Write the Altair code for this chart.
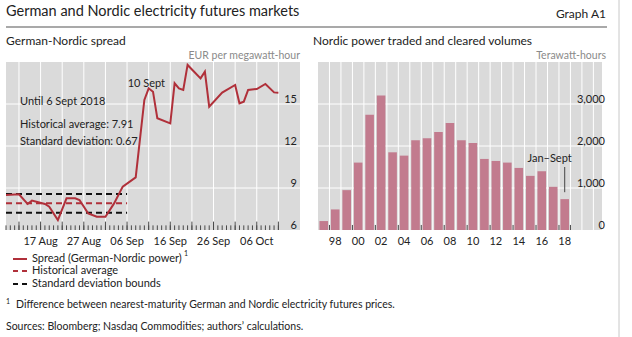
import altair as alt
import pandas as pd

# ---------------- data ----------------
spread_dates = ["2018-08-09", "2018-08-12", "2018-08-14", "2018-08-15", "2018-08-18", "2018-08-19",
                "2018-08-21", "2018-08-23", "2018-08-25", "2018-08-26", "2018-08-28", "2018-08-30",
                "2018-09-01", "2018-09-03", "2018-09-05", "2018-09-08", "2018-09-10", "2018-09-11",
                "2018-09-12", "2018-09-13", "2018-09-16", "2018-09-17", "2018-09-18", "2018-09-19",
                "2018-09-20", "2018-09-23", "2018-09-24", "2018-09-25", "2018-09-28", "2018-10-01",
                "2018-10-02", "2018-10-03", "2018-10-04", "2018-10-06", "2018-10-08", "2018-10-10",
                "2018-10-11"]
spread_values = [8.50, 8.55, 7.86, 8.10, 7.86, 7.67, 6.71, 8.26, 8.26, 8.14, 7.19, 6.95,
                 6.95, 7.90, 9.10, 9.76, 15.29, 16.12, 15.88, 13.98, 13.62, 16.48, 16.12, 16.00,
                 17.79, 16.83, 17.31, 14.81, 15.81, 16.36, 15.05, 15.17, 16.00, 16.07, 16.43, 15.83,
                 15.81]
hist_avg = 7.91
hist_sd = 0.67
hist_start = "2018-08-09"
hist_end = "2018-09-06"

years = list(range(1997, 2019))
volumes = [213, 490, 949, 1605, 2743, 3202, 1850, 1771, 2134, 2182, 2332, 2545,
           2134, 2071, 1692, 1644, 1605, 1478, 1289, 1399, 1028, 735]

left_xtick_dates = ["2018-08-17", "2018-08-27", "2018-09-06", "2018-09-16", "2018-09-26", "2018-10-06"]
left_xtick_labels = ["17 Aug", "27 Aug", "06 Sep", "16 Sep", "26 Sep", "06 Oct"]
left_yticks = [6, 9, 12, 15]
left_ytick_labels = ["6", "9", "12", "15"]
right_xticks = [1998, 2000, 2002, 2004, 2006, 2008, 2010, 2012, 2014, 2016, 2018]
right_xtick_labels = ["98", "00", "02", "04", "06", "08", "10", "12", "14", "16", "18"]
right_yticks = [0, 1000, 2000, 3000]
right_ytick_labels = ["0", "1,000", "2,000", "3,000"]

# ---------------- style ----------------
FONT = "Lato"
TXT = "#222222"
GRAY_BG = "#dadada"
RED = "#b0303a"
PINK = "#c27b8e"
TICK = "#4a4a4a"


def utc(s):
    y, m, d = [int(v) for v in s.split("-")]
    return alt.DateTime(year=y, month=m, date=d, utc=True)


xL = alt.Scale(type="utc", domain=[utc("2018-08-09"), utc("2018-10-16")], range=[6, 300], nice=False)
yL = alt.Scale(domain=[6, 18], range=[230, 62], nice=False, zero=False)
xR = alt.Scale(domain=[1996.5, 2021.25], range=[313, 607], nice=False, zero=False)
yR = alt.Scale(domain=[0, 4000], range=[230, 62], nice=False, zero=False)

# invisible axis placeholder (ticks/labels drawn as marks below)
HIDDEN = alt.Axis(labels=False, ticks=False, domain=False, grid=False, title=None)

ONE = pd.DataFrame({"a": [0]})


def label(text, x, y, size=11, color=TXT, align="left", baseline="middle"):
    return alt.Chart(ONE).mark_text(text=text, font=FONT, fontSize=size, color=color, align=align,
                                    baseline=baseline).encode(x=alt.value(x), y=alt.value(y))


# ---------------- left panel ----------------
bgL = alt.Chart(pd.DataFrame({"x0": ["2018-08-09"], "x1": ["2018-10-16"], "y0": [6], "y1": [18]})).mark_rect(
    color=GRAY_BG).encode(
    x=alt.X("x0:T", scale=xL, axis=HIDDEN), x2="x1:T",
    y=alt.Y("y0:Q", scale=yL, axis=HIDDEN), y2="y1:Q",
)

vgridL = alt.Chart(pd.DataFrame({"d": [d.strftime("%Y-%m-%d") for d in pd.date_range("2018-08-12", "2018-10-11", freq="5D")]})).mark_rule(
    color="white", strokeWidth=1).encode(x=alt.X("d:T", axis=None), y=alt.datum(6), y2=alt.datum(18))
hgridL = alt.Chart(pd.DataFrame({"v": [9, 12, 15]})).mark_rule(color="white", strokeWidth=1).encode(
    y=alt.Y("v:Q", axis=None), x=alt.datum(utc("2018-08-09")), x2=alt.datum(utc("2018-10-16")))

ticks_small = alt.Chart(pd.DataFrame({"d": [d.strftime("%Y-%m-%d") for d in pd.date_range("2018-08-09", "2018-10-11", freq="D")]})).mark_rule(
    color=TICK, strokeWidth=1).encode(x=alt.X("d:T", axis=None), y=alt.datum(6), y2=alt.datum(6.33))
ticks_big = alt.Chart(pd.DataFrame({"d": [d.strftime("%Y-%m-%d") for d in pd.date_range("2018-08-12", "2018-10-11", freq="5D")]})).mark_rule(
    color=TICK, strokeWidth=1).encode(x=alt.X("d:T", axis=None), y=alt.datum(6), y2=alt.datum(6.6))

bands = pd.DataFrame({"x0": [hist_start] * 3, "x1": [hist_end] * 3,
                      "v": [hist_avg + hist_sd, hist_avg - hist_sd, hist_avg],
                      "kind": ["sd", "sd", "avg"]})
sd_lines = alt.Chart(bands[bands.kind == "sd"]).mark_rule(color="#111111", strokeWidth=2, strokeDash=[6, 4]).encode(
    x=alt.X("x0:T", axis=None), x2="x1:T", y=alt.Y("v:Q", axis=None))
avg_line = alt.Chart(bands[bands.kind == "avg"]).mark_rule(color=RED, strokeWidth=2, strokeDash=[6, 4]).encode(
    x=alt.X("x0:T", axis=None), x2="x1:T", y=alt.Y("v:Q", axis=None))

spread_df = pd.DataFrame({"date": spread_dates, "value": spread_values})
spread_line = alt.Chart(spread_df).mark_line(color=RED, strokeWidth=2).encode(
    x=alt.X("date:T", axis=None), y=alt.Y("value:Q", axis=None))

sept_note = alt.Chart(pd.DataFrame({"d": ["2018-09-10"], "v": [16.45]})).mark_text(
    text="10 Sept", font=FONT, fontSize=11, color=TXT, align="center", baseline="middle", dx=2).encode(
    x=alt.X("d:T", axis=None), y=alt.Y("v:Q", axis=None))

xlabL = alt.Chart(pd.DataFrame({"d": left_xtick_dates, "t": left_xtick_labels})).mark_text(
    font=FONT, fontSize=11, color=TXT, align="center", baseline="middle").encode(
    x=alt.X("d:T", axis=None), y=alt.value(242), text="t:N")
ylabL = alt.Chart(pd.DataFrame({"v": left_yticks, "t": left_ytick_labels})).mark_text(
    font=FONT, fontSize=11, color=TXT, align="right", baseline="alphabetic", dy=-1).encode(
    y=alt.Y("v:Q", axis=None), x=alt.value(297), text="t:N")

left = alt.layer(bgL, vgridL, hgridL, ticks_small, ticks_big, sd_lines, avg_line, spread_line, sept_note,
                 xlabL, ylabL)

# ---------------- right panel ----------------
bgR = alt.Chart(pd.DataFrame({"x0": [1996.5], "x1": [2021.25], "y0": [0], "y1": [4000]})).mark_rect(
    color=GRAY_BG).encode(
    x=alt.X("x0:Q", scale=xR, axis=HIDDEN), x2="x1:Q",
    y=alt.Y("y0:Q", scale=yR, axis=HIDDEN), y2="y1:Q",
)
vgridR = alt.Chart(pd.DataFrame({"v": [y + 0.5 for y in range(1997, 2021)]})).mark_rule(
    color="white", strokeWidth=1).encode(x=alt.X("v:Q", axis=None), y=alt.datum(0), y2=alt.datum(4000))
hgridR = alt.Chart(pd.DataFrame({"v": [1000, 2000, 3000]})).mark_rule(color="white", strokeWidth=1).encode(
    y=alt.Y("v:Q", axis=None), x=alt.datum(1996.5), x2=alt.datum(2021.25))

bars = alt.Chart(pd.DataFrame({"year": years, "vol": volumes})).mark_bar(color=PINK, size=8.6).encode(
    x=alt.X("year:Q", axis=None), y=alt.Y("vol:Q", axis=None), y2=alt.datum(0))

ticksR = alt.Chart(pd.DataFrame({"v": [y + 0.5 for y in range(1997, 2018, 2)] + [2018.5]})).mark_rule(
    color=TICK, strokeWidth=1).encode(x=alt.X("v:Q", axis=None), y=alt.datum(0), y2=alt.datum(120))

jan_rule = alt.Chart(pd.DataFrame({"x": [2018], "y0": [900], "y1": [1500]})).mark_rule(
    color="#444444", strokeWidth=1).encode(x=alt.X("x:Q", axis=None), y=alt.Y("y0:Q", axis=None), y2="y1:Q")
jan_note = alt.Chart(pd.DataFrame({"x": [2018], "y": [1680]})).mark_text(
    text="Jan–Sept", font=FONT, fontSize=11, color=TXT, align="right", baseline="middle", dx=7).encode(
    x=alt.X("x:Q", axis=None), y=alt.Y("y:Q", axis=None))

xlabR = alt.Chart(pd.DataFrame({"v": right_xticks, "t": right_xtick_labels})).mark_text(
    font=FONT, fontSize=11, color=TXT, align="center", baseline="middle").encode(
    x=alt.X("v:Q", axis=None), y=alt.value(242), text="t:N")
ylabR = alt.Chart(pd.DataFrame({"v": right_yticks, "t": right_ytick_labels})).mark_text(
    font=FONT, fontSize=11, color=TXT, align="right", baseline="alphabetic", dy=-1).encode(
    y=alt.Y("v:Q", axis=None), x=alt.value(605), text="t:N")

right = alt.layer(bgR, vgridR, hgridR, bars, ticksR, jan_rule, jan_note, xlabR, ylabR)

# ---------------- texts, legend, frame ----------------
title_rule = alt.Chart(ONE).mark_rule(color="#555555", strokeWidth=1.2).encode(
    x=alt.value(6), x2=alt.value(607), y=alt.value(27))
frame_rule = alt.Chart(ONE).mark_rule(color="#c8c8c8", strokeWidth=1).encode(
    x=alt.value(619), y=alt.value(0), y2=alt.value(337))

leg_solid = alt.Chart(ONE).mark_rule(color=RED, strokeWidth=2).encode(
    x=alt.value(13), x2=alt.value(27), y=alt.value(259))
leg_avg = alt.Chart(ONE).mark_rule(color=RED, strokeWidth=2, strokeDash=[5, 4]).encode(
    x=alt.value(13), x2=alt.value(27), y=alt.value(271))
leg_sd = alt.Chart(ONE).mark_rule(color="#111111", strokeWidth=2, strokeDash=[5, 4]).encode(
    x=alt.value(13), x2=alt.value(27), y=alt.value(284))

texts = [
    label("German and Nordic electricity futures markets", 6, 12, size=14.5),
    label("Graph A1", 606, 14, size=12, align="right"),
    label("German-Nordic spread", 6, 41, size=12),
    label("Nordic power traded and cleared volumes", 313, 41, size=12),
    label("EUR per megawatt-hour", 300, 56, size=10.5, color="#8a8a8a", align="right"),
    label("Terawatt-hours", 606, 56, size=10.5, color="#8a8a8a", align="right"),
    label("Until 6 Sept 2018", 20, 102),
    label("Historical average: 7.91", 20, 125),
    label("Standard deviation: 0.67", 20, 142),
    label("Spread (German-Nordic power)", 32, 259),
    label("1", 184, 254, size=7),
    label("Historical average", 32, 271),
    label("Standard deviation bounds", 32, 284),
    label("1", 6, 302, size=7),
    label("Difference between nearest-maturity German and Nordic electricity futures prices.", 16, 305, size=10.5),
    label("Sources: Bloomberg; Nasdaq Commodities; authors’ calculations.", 6, 327, size=10.5),
]

chart = alt.layer(left, right, title_rule, frame_rule, leg_solid, leg_avg, leg_sd, *texts).resolve_scale(
    x="independent", y="independent").properties(
    width=632, height=337, autosize=alt.AutoSizeParams(type="none"), padding=0, background="white"
).configure_view(stroke=None)

chart.save("out.html", embed_options={"renderer": "svg", "actions": False})
